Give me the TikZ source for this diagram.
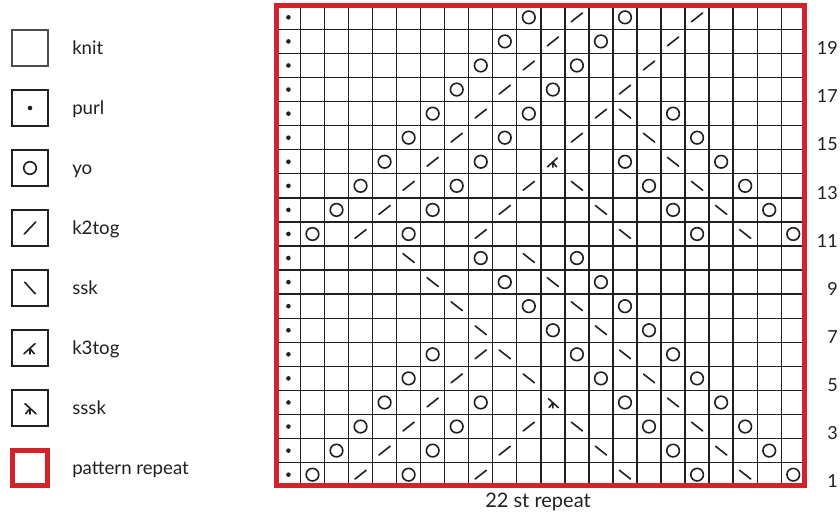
\documentclass[tikz,border=0pt]{standalone}
\usepackage{fontspec}
\setmainfont{Lato}
\definecolor{ink}{HTML}{231F20}
\definecolor{repred}{HTML}{D3222A}
\definecolor{knitgray}{HTML}{4D4D4D}
\tikzset{
  gridline/.style={draw=ink, line width=1pt},
  symline/.style={draw=ink, line width=1.2pt, line cap=round},
  legbox/.style={draw=ink, line width=1.2pt, minimum size=27pt, inner sep=0pt},
  legtext/.style={anchor=base west, font=\fontsize{14}{16}\selectfont, text=ink, inner sep=0pt},
  rownum/.style={anchor=base east, font=\fontsize{13.5}{15}\selectfont, text=ink, inner sep=0pt},
  reptext/.style={anchor=base, font=\fontsize{15}{17}\selectfont, text=ink, inner sep=0pt},
  repframe/.style={draw=repred, line width=3.6pt},
  pics/purldot/.style={code={\fill[ink] (0,0) circle (2.3);}},
  pics/yoring/.style={code={\draw[symline] (0,0) circle (6.3);}},
  pics/ktwo/.style={code={\draw[symline] (-5.6,4.4) -- (5.6,-4.4);}},
  pics/sskline/.style={code={\draw[symline] (-5.6,-4.4) -- (5.6,4.4);}},
  pics/legktwo/.style={code={\draw[symline] (-5.7,6) -- (5.7,-6);}},
  pics/legssk/.style={code={\draw[symline] (-5.2,-5.8) -- (5.2,5.8);}},
  pics/kthree/.style={code={\draw[symline] (-6,5.7) -- (5,-4.3) (0,0.5) -- (0,6) (0,0.5) -- (4.2,5.7);}},
  pics/ssskmark/.style={code={\draw[symline] (6,5.7) -- (-5,-4.3) (0,0.5) -- (0,6) (0,0.5) -- (-4.2,5.7);}},
}
\begin{document}
\begin{tikzpicture}[x=0.75pt,y=-0.75pt]
\useasboundingbox[fill=white] (0,0) rectangle (840,512);

% ---------- legend ----------
\node[legbox, draw=knitgray] (lknit) at (30,48) {};
\node[legbox] (lpurl) at (30,108) {};
\node[legbox] (lyo) at (30,168) {};
\node[legbox] (lk2) at (30,228) {};
\node[legbox] (lssk) at (30,288) {};
\node[legbox] (lk3) at (30,348) {};
\node[legbox] (lsssk) at (30,408) {};
\node[draw=repred, line width=3.4pt, minimum size=26.5pt, inner sep=0pt] (lrep) at (30,468) {};
\pic at (lpurl) {purldot};
\pic at (lyo) {yoring};
\pic at (lk2) {legktwo};
\pic at (lssk) {legssk};
\pic at (lk3) {kthree};
\pic at (lsssk) {ssskmark};

\node[legtext] (tknit) at (72,54) {knit};
\node[legtext] (tpurl) at (72,114) {purl};
\node[legtext] (tyo) at (72,174) {yo};
\node[legtext] (tk2) at (72,234) {k2tog};
\node[legtext] (tssk) at (72,294) {ssk};
\node[legtext] (tk3) at (72,354) {k3tog};
\node[legtext] (tsssk) at (72,414) {sssk};
\node[legtext] (trep) at (72,474) {pattern repeat};

% ---------- chart grid ----------
\foreach \i in {0,...,22}
  \draw[gridline] ({276.4+24.04*\i},5.3) -- ({276.4+24.04*\i},486.7);
\foreach \j in {0,...,20}
  \draw[gridline] (276.4,{5.3+24.07*\j}) -- (805.3,{5.3+24.07*\j});

% cell centres
\foreach \r in {1,...,20}
  \foreach \c in {1,...,22}
    \coordinate (c-\r-\c) at ({276.4+24.04*(\c-0.5)},{5.3+24.07*(20.5-\r)});

% purl column
\foreach \r in {1,...,20}
  \pic at (c-\r-1) {purldot};

% yarn overs
\foreach \r/\c in {20/11,20/15, 19/10,19/14, 18/9,18/13, 17/8,17/12,
  16/7,16/11,16/17, 15/6,15/10,15/18, 14/5,14/9,14/15,14/19,
  13/4,13/8,13/16,13/20, 12/3,12/7,12/17,12/21, 11/2,11/6,11/18,11/22,
  10/9,10/13, 9/10,9/14, 8/11,8/15, 7/12,7/16, 6/7,6/13,6/17,
  5/6,5/14,5/18, 4/5,4/9,4/15,4/19, 3/4,3/8,3/16,3/20,
  2/3,2/7,2/17,2/21, 1/2,1/6,1/18,1/22}
  \pic at (c-\r-\c) {yoring};

% k2tog
\foreach \r/\c in {20/13,20/18, 19/12,19/17, 18/11,18/16, 17/10,17/15,
  16/9,16/14, 15/8,15/13, 14/7, 13/6,13/11, 12/5,12/10, 11/4,11/9,
  6/9, 5/8, 4/7, 3/6,3/11, 2/5,2/10, 1/4,1/9}
  \pic at (c-\r-\c) {ktwo};

% ssk
\foreach \r/\c in {16/15, 15/16, 14/17, 13/13,13/18, 12/14,12/19, 11/15,11/20,
  10/6,10/11, 9/7,9/12, 8/8,8/13, 7/9,7/14, 6/10,6/15, 5/11,5/16,
  4/17, 3/13,3/18, 2/14,2/19, 1/15,1/20}
  \pic at (c-\r-\c) {sskline};

% k3tog and sssk
\pic[scale=0.9] at (c-14-12) {kthree};
\pic[scale=0.9] at (c-4-12) {ssskmark};

% pattern repeat frame
\draw[repframe] (276.5,5.8) rectangle (804.2,485.4);

% row numbers
\foreach \r in {1,3,...,19}
  \node[rownum] (n\r) at (838,{5.3+24.07*(21-\r)+1.2}) {\r};

\node[reptext] (rep) at (538,507.5) {22 st repeat};
\end{tikzpicture}
\end{document}
